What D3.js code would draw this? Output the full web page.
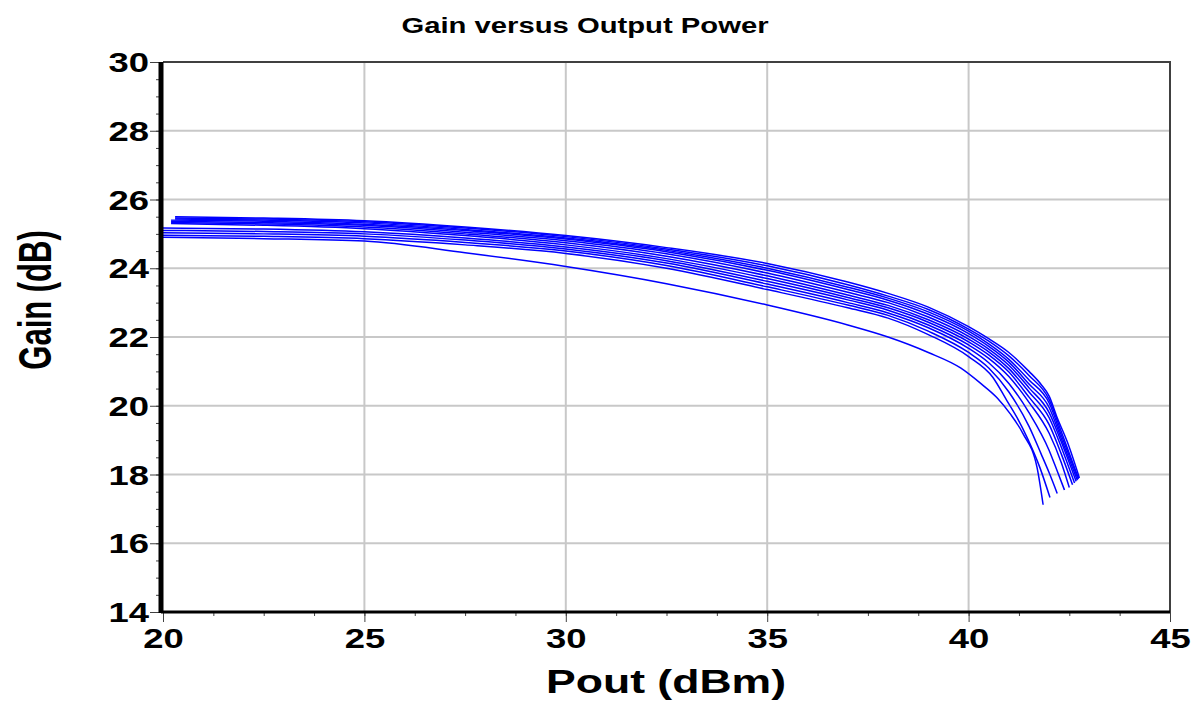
<!DOCTYPE html>
<html>
<head>
<meta charset="utf-8">
<script src="https://cdn.jsdelivr.net/npm/d3@7/dist/d3.min.js"></script>
<style>
  html, body { margin: 0; padding: 0; background: #fff; }
  svg { display: block; }
  text { font-family: "Liberation Sans", Arial, sans-serif; font-weight: bold; fill: #000; }
</style>
</head>
<body>
<svg id="chart" width="1204" height="701"></svg>
<script>
// Gain (dB) versus output power (dBm), one trace per measurement condition
const gainCurve1 = [[20.0,24.9],[22.5,24.86],[25,24.79],[27.5,24.45],[30,24.05],[32.5,23.55],[35,22.93],[37,22.35],[38,22.0],[39,21.55],[39.8,21.1],[40.3,20.65],[40.7,20.24],[41.03,19.77],[41.35,19.19],[41.7,18.2],[41.85,17.12]];
const gainCurve2 = [[20.0,24.96],[22.5,24.93],[25,24.86],[27.5,24.68],[30,24.43],[32.5,24.0],[35,23.38],[37,22.85],[38,22.55],[39,22.07],[40,21.43],[40.6,20.83],[40.95,20.15],[41.2,19.66],[41.45,19.08],[41.77,18.2],[42.02,17.33]];
const gainCurve3 = [[20.0,25.03],[22.5,25.0],[25,24.93],[27.5,24.75],[30,24.5],[32.5,24.08],[35,23.46],[37,22.93],[38,22.63],[39,22.17],[40,21.55],[40.5,21.1],[41,20.4],[41.5,19.4],[41.8,18.6],[42.0,18.05],[42.2,17.45]];
const gainCurve4 = [[20.0,25.1],[22.5,25.07],[25,25.0],[27.5,24.82],[30,24.56],[32.5,24.15],[35,23.54],[37,23.0],[38,22.7],[39,22.27],[40,21.67],[40.5,21.25],[41,20.65],[41.5,19.8],[42.0,18.7],[42.2,18.1],[42.38,17.55]];
const gainCurve5 = [[20.0,25.17],[22.5,25.14],[25,25.06],[27.5,24.88],[30,24.62],[32.5,24.22],[35,23.62],[37,23.08],[38,22.78],[39,22.35],[40,21.77],[40.5,21.38],[41,20.85],[41.5,20.1],[42.0,19.2],[42.3,18.35],[42.5,17.62]];
const gainCurve6 = [[20.2,25.3],[22.5,25.25],[25,25.15],[27.5,24.95],[30,24.68],[32.5,24.28],[35,23.7],[37,23.15],[38,22.85],[39,22.43],[40,21.86],[40.5,21.48],[41,20.98],[41.5,20.25],[42.0,19.45],[42.3,18.6],[42.58,17.7]];
const gainCurve7 = [[20.2,25.33],[22.5,25.29],[25,25.2],[27.5,25.0],[30,24.74],[32.5,24.35],[35,23.78],[37,23.22],[38,22.92],[39,22.5],[40,21.94],[40.5,21.57],[41,21.08],[41.5,20.4],[42.0,19.65],[42.3,18.8],[42.63,17.75]];
const gainCurve8 = [[20.2,25.37],[22.5,25.33],[25,25.25],[27.5,25.05],[30,24.8],[32.5,24.42],[35,23.86],[37,23.3],[38,23.0],[39,22.58],[40,22.02],[40.5,21.65],[41,21.18],[41.5,20.52],[42.0,19.8],[42.3,18.95],[42.67,17.8]];
const gainCurve9 = [[20.2,25.4],[22.5,25.37],[25,25.28],[27.5,25.1],[30,24.85],[32.5,24.48],[35,23.94],[37,23.38],[38,23.07],[39,22.66],[40,22.1],[40.5,21.73],[41,21.27],[41.5,20.63],[42.0,19.95],[42.3,19.05],[42.7,17.83]];
const gainCurve10 = [[20.3,25.43],[22.5,25.4],[25,25.32],[27.5,25.13],[30,24.88],[32.5,24.52],[35,24.0],[37,23.45],[38,23.13],[39,22.73],[40,22.17],[40.5,21.8],[41,21.35],[41.5,20.75],[42.0,20.08],[42.3,19.15],[42.72,17.86]];
const gainCurve11 = [[20.3,25.46],[22.5,25.43],[25,25.35],[27.5,25.17],[30,24.92],[32.5,24.56],[35,24.07],[37,23.52],[38,23.19],[39,22.8],[40,22.23],[40.5,21.88],[41,21.45],[41.5,20.88],[42.0,20.18],[42.3,19.25],[42.73,17.88]];
const gainCurve12 = [[20.3,25.5],[22.5,25.46],[25,25.38],[27.5,25.2],[30,24.95],[32.5,24.6],[35,24.14],[37,23.6],[38,23.27],[39,22.87],[40,22.3],[40.5,21.95],[41,21.55],[41.5,21.0],[41.8,20.62],[42.0,20.28],[42.2,19.65],[42.45,18.95],[42.75,17.9]];

const curves = [gainCurve1, gainCurve2, gainCurve3, gainCurve4, gainCurve5, gainCurve6,
                gainCurve7, gainCurve8, gainCurve9, gainCurve10, gainCurve11, gainCurve12];

const xTicks = [20, 25, 30, 35, 40, 45];
const yTicks = [14, 16, 18, 20, 22, 24, 26, 28, 30];
const xMinorTicks = d3.range(20, 45.001, 1.25);
const yMinorTicks = d3.range(14, 30.001, 0.5);

const titleText = "Gain versus Output Power";
const xLabelText = "Pout (dBm)";
const yLabelText = "Gain (dB)";

// plot frame
const plotLeft = 163, plotRight = 1170, plotTop = 62, plotBottom = 612;
const stretch = 1.35; // horizontal text stretch

const svg = d3.select("#chart");
const x = d3.scaleLinear().domain([20, 45]).range([plotLeft, plotRight]);
const y = d3.scaleLinear().domain([14, 30]).range([plotBottom, plotTop]);

// grid
const grid = svg.append("g").attr("stroke", "#c8c8c8").attr("stroke-width", 2);
grid.selectAll("line.v").data(xTicks.slice(1, -1)).join("line").attr("class", "v")
  .attr("x1", d => x(d)).attr("x2", d => x(d)).attr("y1", plotTop).attr("y2", plotBottom);
grid.selectAll("line.h").data(yTicks.slice(1, -1)).join("line").attr("class", "h")
  .attr("x1", plotLeft).attr("x2", plotRight).attr("y1", d => y(d)).attr("y2", d => y(d));

// frame (top and right)
svg.append("path")
  .attr("d", `M${plotLeft},${plotTop}H${plotRight}V${plotBottom}`)
  .attr("fill", "none").attr("stroke", "#404040").attr("stroke-width", 2);

// traces
const line = d3.line().x(d => x(d[0])).y(d => y(d[1])).curve(d3.curveMonotoneX);
svg.append("g").selectAll("path").data(curves).join("path")
  .attr("d", line)
  .attr("fill", "none").attr("stroke", "#0000ff").attr("stroke-width", 1.5);

// minor ticks
svg.append("g").attr("transform", `translate(0,${plotBottom})`)
  .call(d3.axisBottom(x).tickValues(xMinorTicks).tickSize(4).tickFormat(""))
  .call(g => g.select(".domain").remove())
  .selectAll("line").attr("stroke", "#404040");
svg.append("g").attr("transform", `translate(${plotLeft - 2},0)`)
  .call(d3.axisLeft(y).tickValues(yMinorTicks).tickSize(5).tickFormat(""))
  .call(g => g.select(".domain").remove())
  .selectAll("line").attr("stroke", "#404040");

// major axes
const xAxis = svg.append("g").attr("transform", `translate(0,${plotBottom})`)
  .call(d3.axisBottom(x).tickValues(xTicks).tickSize(10).tickPadding(0).tickFormat(d3.format("d")));
xAxis.select(".domain").remove();
xAxis.selectAll("line").attr("stroke", "#404040");
xAxis.selectAll("text")
  .attr("y", 0).attr("dy", 0)
  .attr("transform", `translate(0,36) scale(${stretch},1)`)
  .style("font-size", "27px").style("font-family", "'Liberation Sans', Arial, sans-serif").style("font-weight", "bold");

const yAxis = svg.append("g").attr("transform", `translate(${plotLeft - 2},0)`)
  .call(d3.axisLeft(y).tickValues(yTicks).tickSize(11).tickFormat(d3.format("d")));
yAxis.select(".domain").remove();
yAxis.selectAll("line").attr("stroke", "#404040");
yAxis.selectAll("text")
  .attr("x", 0).attr("dy", "0.36em")
  .attr("transform", `translate(-12,0) scale(${stretch},1)`)
  .style("font-size", "27px").style("font-family", "'Liberation Sans', Arial, sans-serif").style("font-weight", "bold");

// spines
svg.append("line").attr("x1", plotLeft - 2).attr("x2", plotLeft - 2).attr("y1", plotTop).attr("y2", plotBottom + 1)
  .attr("stroke", "#000").attr("stroke-width", 5);
svg.append("line").attr("x1", plotLeft - 2).attr("x2", plotRight).attr("y1", plotBottom).attr("y2", plotBottom)
  .attr("stroke", "#000").attr("stroke-width", 3);

// titles
svg.append("text").attr("text-anchor", "middle")
  .attr("transform", `translate(585,33) scale(1.3,1)`)
  .style("font-size", "22.5px").text(titleText);
svg.append("text").attr("text-anchor", "middle")
  .attr("transform", `translate(666,693) scale(${stretch},1)`)
  .style("font-size", "33px").text(xLabelText);
svg.append("text").attr("text-anchor", "middle")
  .attr("transform", `translate(51,300) rotate(-90) scale(1,1.5)`)
  .style("font-size", "31px").text(yLabelText);
</script>
</body>
</html>
